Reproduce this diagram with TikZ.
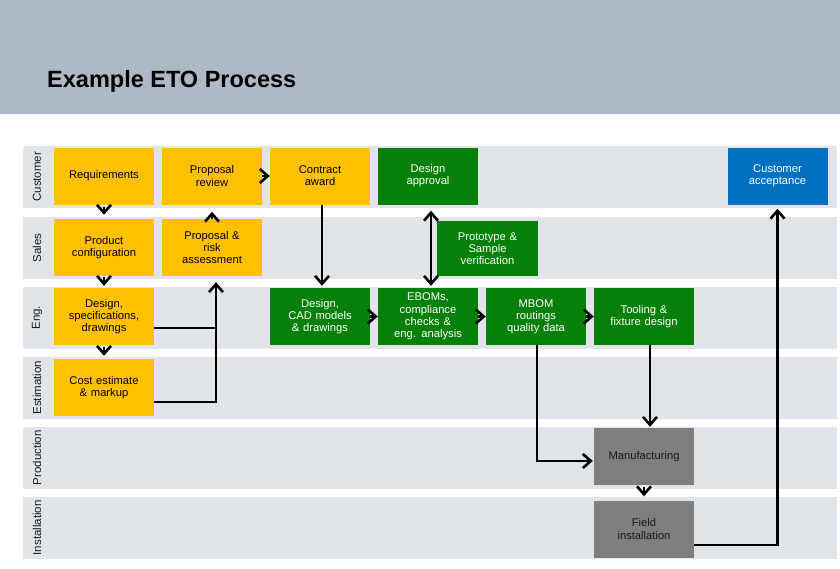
\documentclass[tikz,border=0pt]{standalone}
\usepackage{fontspec}
\setmainfont{Liberation Sans}
\usetikzlibrary{arrows.meta}
\definecolor{band}{HTML}{ADB9C5}
\definecolor{lane}{HTML}{E1E5E9}
\definecolor{eyellow}{HTML}{FFC000}
\definecolor{egreen}{HTML}{07800A}
\definecolor{eblue}{HTML}{0070C0}
\definecolor{egray}{HTML}{7F7F7F}
\definecolor{dtext}{HTML}{1A1A1A}
\tikzset{
  box/.style={minimum width=100pt, minimum height=57pt, inner sep=0pt, align=center,
    text width=96pt, font=\fontsize{11.2}{12.2}\selectfont},
  ybox/.style={box, fill=eyellow, text=black},
  gbox/.style={box, fill=egreen, text=white},
  bbox/.style={box, fill=eblue, text=white},
  grbox/.style={box, fill=egray, text=dtext},
  lanebg/.style={fill=lane, draw=none},
  lanelabel/.style={rotate=90, font=\fontsize{11.5}{12}\selectfont, text=dtext},
  conn/.style={line width=2.4pt, draw=black},
  arr/.style={conn, -{Straight Barb[length=8pt,width=14pt,line width=2.6pt]}},
  darr/.style={conn, {Straight Barb[length=8pt,width=14pt,line width=2.6pt]}-{Straight Barb[length=8pt,width=14pt,line width=2.6pt]}},
}
\begin{document}
\begin{tikzpicture}[x=1pt,y=-1pt]
\useasboundingbox (0,0) rectangle (840,568);
\fill[white] (0,0) rectangle (840,568);
% title band
\fill[band] (0,0) rectangle (840,114);
\node[anchor=base west, inner sep=0pt, font=\fontsize{23.5}{26}\selectfont\bfseries] (title) at (47,87) {Example ETO Process};
% lanes
\foreach \t/\n in {146/Customer,217/Sales,287/Eng.,357/Estimation,427/Production,497/Installation}{
  \fill[lanebg] (23,\t) rectangle (837,\t+61.5);
  \node[lanelabel] (lbl\n) at (37,\t+30.75) {\n};
}
% boxes
\node[ybox] (req) at (104,176) {Requirements};
\node[ybox] (pr) at (212,176) {Proposal\\review};
\node[ybox] (ca) at (320,176) {Contract\\award};
\node[gbox] (da) at (428,176) {Design\\approval};
\node[bbox] (cacc) at (777.5,176) {Customer\\acceptance};
\node[ybox] (pc) at (104,247.5) {Product\\configuration};
\node[ybox] (pra) at (212,247.5) {Proposal \&\\risk\\assessment};
\node[gbox, minimum width=101pt, minimum height=55pt] (proto) at (487.5,248.5) {Prototype \&\\Sample\\verification};
\node[ybox] (ds) at (104,316.5) {Design,\\specifications,\\drawings};
\node[gbox] (cad) at (320,316.5) {Design,\\CAD models\\\& drawings};
\node[gbox] (ebom) at (428,316.5) {EBOMs,\\compliance\\checks \&\\eng. analysis};
\node[gbox] (mbom) at (536,316.5) {MBOM\\routings\\quality data};
\node[gbox] (tool) at (644,316.5) {Tooling \&\\fixture design};
\node[ybox] (ce) at (104,387.5) {Cost estimate\\\& markup};
\node[grbox] (mfg) at (644,456.5) {Manufacturing};
\node[grbox] (fi) at (644,529) {Field\\installation};
% chevrons between adjacent boxes
\draw[arr, shorten <=2pt, shorten >=4pt] (req) -- (pc);
\draw[arr, shorten <=1pt, shorten >=2pt] (pc) -- (ds);
\draw[arr, shorten <=2pt, shorten >=3pt] (ds) -- (ce);
\draw[arr, shorten <=0pt, shorten >=7pt] (pra) -- (pr);
\draw[arr] (pr) -- (ca);
\draw[arr] (cad) -- (ebom);
\draw[arr] (ebom) -- (mbom);
\draw[arr] (mbom) -- (tool);
\draw[arr, shorten <=2pt, shorten >=4pt] (mfg) -- (fi);
% longer connectors
\coordinate (vline) at ([xshift=4pt]pra.south);
\coordinate (dsout) at ([yshift=-11.5pt]ds.east);
\coordinate (ceout) at ([yshift=-14.5pt]ce.east);
\draw[conn] (dsout) -- (dsout -| vline);
\draw[arr, shorten >=6pt] (ceout) -| (vline);
\draw[arr, shorten >=2pt] ([xshift=2pt]ca.south) -- ([xshift=2pt]cad.north);
\draw[darr, shorten <=6pt, shorten >=2pt] ([xshift=3pt]da.south) -- ([xshift=3pt]ebom.north);
\coordinate (mbout) at ([xshift=1pt]mbom.south);
\coordinate (mfgin) at ([yshift=-4.5pt]mfg.west);
\draw[arr, shorten >=1pt] (mbout) |- (mfgin);
\draw[arr, shorten >=1pt] ([xshift=6pt]tool.south) -- ([xshift=6pt]mfg.north);
\coordinate (fiout) at ([yshift=-16pt]fi.east);
\coordinate (caccin) at (cacc.south);
\draw[arr, shorten >=4pt] (fiout) -| (caccin);
\end{tikzpicture}
\end{document}
